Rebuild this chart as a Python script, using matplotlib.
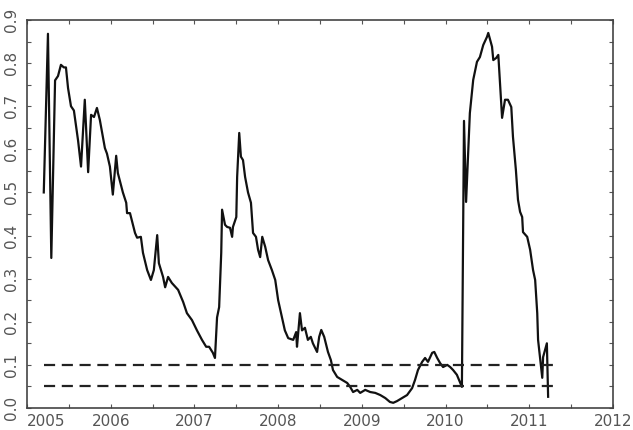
import numpy as np
import matplotlib.pyplot as plt
from matplotlib.ticker import MultipleLocator

# time in decimal years
years = [
    2005.20, 2005.25, 2005.29, 2005.335, 2005.37, 2005.405, 2005.44, 2005.465, 2005.49, 2005.525,
    2005.56, 2005.61, 2005.645, 2005.69, 2005.73, 2005.765, 2005.80, 2005.835, 2005.87, 2005.93,
    2005.955, 2005.99, 2006.025, 2006.065, 2006.085, 2006.145, 2006.185, 2006.195, 2006.23, 2006.29,
    2006.315, 2006.36, 2006.385, 2006.435, 2006.48, 2006.515, 2006.555, 2006.575, 2006.625, 2006.65,
    2006.685, 2006.73, 2006.805, 2006.865, 2006.91, 2006.97, 2007.03, 2007.09, 2007.14, 2007.175,
    2007.22, 2007.245, 2007.27, 2007.295, 2007.32, 2007.33, 2007.365, 2007.39, 2007.425, 2007.45,
    2007.46, 2007.50, 2007.51, 2007.535, 2007.555, 2007.58, 2007.605, 2007.64, 2007.675, 2007.70,
    2007.735, 2007.76, 2007.785, 2007.81, 2007.845, 2007.88, 2007.925, 2007.965, 2008.00, 2008.045,
    2008.08, 2008.12, 2008.18, 2008.215, 2008.225, 2008.26, 2008.285, 2008.32, 2008.355, 2008.39,
    2008.415, 2008.465, 2008.49, 2008.515, 2008.55, 2008.595, 2008.63, 2008.655, 2008.705, 2008.765,
    2008.825, 2008.86, 2008.895, 2008.945, 2008.98, 2009.04, 2009.10, 2009.16, 2009.22, 2009.28,
    2009.335, 2009.375, 2009.42, 2009.48, 2009.54, 2009.60, 2009.635, 2009.67, 2009.72, 2009.755,
    2009.79, 2009.84, 2009.865, 2009.90, 2009.935, 2009.97, 2010.02, 2010.055, 2010.09, 2010.135,
    2010.195, 2010.22, 2010.245, 2010.29, 2010.33, 2010.375, 2010.41, 2010.45, 2010.495, 2010.51,
    2010.555, 2010.57, 2010.605, 2010.63, 2010.675, 2010.71, 2010.745, 2010.785, 2010.805, 2010.84,
    2010.865, 2010.89, 2010.915, 2010.925, 2010.975, 2011.01, 2011.045, 2011.07, 2011.095, 2011.105,
    2011.14, 2011.155, 2011.165, 2011.21, 2011.225,
]
values = [
    0.50, 0.868, 0.348, 0.76, 0.77, 0.796, 0.79, 0.79, 0.742, 0.70,
    0.69, 0.62, 0.56, 0.715, 0.547, 0.68, 0.675, 0.696, 0.668, 0.603,
    0.59, 0.56, 0.495, 0.585, 0.545, 0.50, 0.476, 0.452, 0.452, 0.406,
    0.395, 0.397, 0.36, 0.32, 0.297, 0.32, 0.401, 0.336, 0.304, 0.28,
    0.304, 0.29, 0.274, 0.246, 0.22, 0.204, 0.18, 0.158, 0.142, 0.142,
    0.128, 0.116, 0.21, 0.234, 0.36, 0.46, 0.425, 0.42, 0.418, 0.397,
    0.42, 0.443, 0.536, 0.638, 0.583, 0.575, 0.536, 0.50, 0.476, 0.406,
    0.397, 0.367, 0.35, 0.397, 0.374, 0.343, 0.32, 0.297, 0.25, 0.21,
    0.18, 0.162, 0.158, 0.176, 0.142, 0.22, 0.18, 0.186, 0.158, 0.165,
    0.15, 0.13, 0.165, 0.181, 0.165, 0.13, 0.111, 0.088, 0.072, 0.065,
    0.058, 0.049, 0.037, 0.042, 0.035, 0.042, 0.037, 0.035, 0.030, 0.023,
    0.014, 0.012, 0.016, 0.023, 0.03, 0.046, 0.065, 0.088, 0.107, 0.116,
    0.107, 0.128, 0.13, 0.116, 0.104, 0.095, 0.10, 0.095, 0.088, 0.077,
    0.049, 0.666, 0.478, 0.684, 0.761, 0.803, 0.814, 0.842, 0.861, 0.87,
    0.838, 0.807, 0.812, 0.819, 0.673, 0.715, 0.715, 0.698, 0.629, 0.552,
    0.483, 0.455, 0.443, 0.408, 0.397, 0.367, 0.32, 0.297, 0.22, 0.158,
    0.095, 0.07, 0.118, 0.15, 0.026,
]

# dashed reference levels
levels = [0.1, 0.05]
level_start, level_end = 2005.2, 2011.33

xticks = [2005, 2006, 2007, 2008, 2009, 2010, 2011, 2012]
yticks = [0.0, 0.1, 0.2, 0.3, 0.4, 0.5, 0.6, 0.7, 0.8, 0.9]

fig = plt.figure(figsize=(6.33, 4.3), dpi=100)
ax = fig.add_axes([0.0427, 0.0512, 0.9257, 0.9023])

ax.plot(years, values, color='#111111', lw=1.6)
for lv in levels:
    ax.plot([level_start, level_end], [lv, lv], color='#222222', lw=1.6, dashes=(5, 3))

ax.set_xlim(2005, 2012)
ax.set_ylim(0, 0.9)
ax.set_xticks(xticks)
ax.set_xticklabels([str(t) for t in xticks])
ax.set_yticks(yticks)
ax.set_yticklabels([f'{t:.1f}' for t in yticks], rotation=90, va='center')
ax.xaxis.set_minor_locator(MultipleLocator(0.5))
ax.yaxis.set_minor_locator(MultipleLocator(0.05))

ax.tick_params(which='both', direction='in', top=True, right=True, length=3,
               width=0.8, color='#555555', labelcolor='#555555', labelsize=11)
ax.tick_params(axis='x', pad=4)
ax.tick_params(axis='y', pad=6)
ax.get_xticklabels()[0].set_ha('left')

for sp in ax.spines.values():
    sp.set_color('#444444')
    sp.set_linewidth(1.2)

fig.savefig('out.png', dpi=100)
